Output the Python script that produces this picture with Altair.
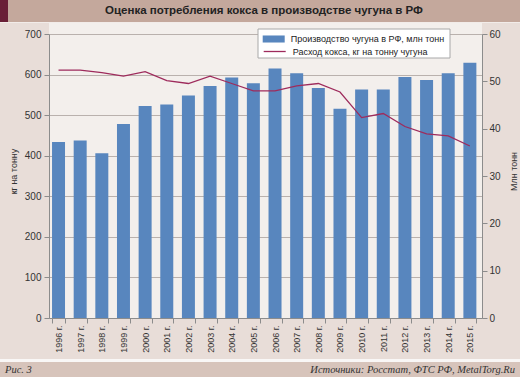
import altair as alt
import pandas as pd

years = ["1996 г.", "1997 г.", "1998 г.", "1999 г.", "2000 г.", "2001 г.", "2002 г.",
         "2003 г.", "2004 г.", "2005 г.", "2006 г.", "2007 г.", "2008 г.", "2009 г.",
         "2010 г.", "2011 г.", "2012 г.", "2013 г.", "2014 г.", "2015 г."]
pig_iron = [37.2, 37.5, 34.8, 41.0, 44.8, 45.1, 47.0, 49.0, 50.8, 49.6,
            52.7, 51.7, 48.6, 44.2, 48.3, 48.3, 50.9, 50.3, 51.7, 53.9]
coke_rate = [611, 611, 605, 596, 607, 585, 578, 596, 578, 560,
             560, 572, 578, 557, 494, 504, 472, 454, 449, 424]
left_ticks = [0, 100, 200, 300, 400, 500, 600, 700]
right_ticks = [0, 10, 20, 30, 40, 50, 60]

bar_name = "Производство чугуна в РФ, млн тонн"
line_name = "Расход кокса, кг на тонну чугуна"
title_text = "Оценка потребления кокса в производстве чугуна в РФ"
fig_text = "Рис. 3"
source_text = "Источники: Росстат, ФТС РФ, MetalTorg.Ru"

df = pd.DataFrame({"year": years, "pig": pig_iron, "coke": coke_rate,
                   "s1": bar_name, "s2": line_name})
one = pd.DataFrame({"a": [0]})

W, H = 433, 284
FONT = "Liberation Sans"
LABEL_COL = "#333333"
AXIS_COL = "#8c8c8c"

x_enc = alt.X("year:N", sort=years,
              scale=alt.Scale(paddingInner=0.4, paddingOuter=0.2, align=0.35),
              axis=alt.Axis(title=None, labelAngle=-90, tickBand="extent",
                            labelFont=FONT, labelFontSize=9, labelColor=LABEL_COL,
                            labelPadding=2, tickSize=5, tickColor=AXIS_COL,
                            domainColor=AXIS_COL, grid=False))


def rect(x, x2, y, y2, fill, **kw):
    return alt.Chart(one).mark_rect(fill=fill, **kw).encode(
        x=alt.value(x), x2=alt.value(x2), y=alt.value(y), y2=alt.value(y2))


title_band = rect(-49, 471, -34, -12, "#c4a89c")
stripe = rect(-49, -41, -34, -12, "#6a1f37")
thin_line = rect(-49, 471, -12, -11, "#f2ece9")
top_strip = rect(0, W, -11, 0, "#f3efec")
white_line = rect(-49, 471, 325, 328, "#f9f7f6")
bottom_band = rect(-49, 471, 328, 343, "#d7c4bb")
legend_box = rect(209, 401, -5, 24, "#ffffff", stroke="#a8a8a8", strokeWidth=1)

bars = alt.Chart(df).mark_bar().encode(
    x=x_enc,
    y=alt.Y("pig:Q", scale=alt.Scale(domain=[0, 60], nice=False),
            axis=alt.Axis(orient="right", values=right_ticks, grid=False,
                          title="Млн тонн", titleAngle=-90, titleX=31, titleY=137,
                          titleAlign="center", titleBaseline="middle",
                          titleFont=FONT, titleFontSize=9, titleFontWeight="normal",
                          titleColor=LABEL_COL,
                          labelFont=FONT, labelFontSize=10, labelColor=LABEL_COL,
                          labelPadding=2, tickSize=5, tickColor=AXIS_COL,
                          domainColor=AXIS_COL)),
    color=alt.Color("s1:N", scale=alt.Scale(domain=[bar_name], range=["#5886be"]),
                    legend=alt.Legend(orient="none", legendX=213.7, legendY=-6,
                                      title=None, symbolType="M-1,-0.32H1V0.32H-1Z",
                                      symbolSize=484, symbolStrokeWidth=0,
                                      labelFont=FONT, labelFontSize=9,
                                      labelColor="#222222", labelOffset=6, padding=0)),
)

line = alt.Chart(df).mark_line(strokeWidth=1.3).encode(
    x=x_enc,
    y=alt.Y("coke:Q", scale=alt.Scale(domain=[0, 700], nice=False),
            axis=alt.Axis(orient="left", values=left_ticks, grid=True,
                          gridColor="#b9b1ad", gridWidth=1,
                          title="кг на тонну", titleAngle=-90, titleX=-36, titleY=137,
                          titleAlign="center", titleBaseline="middle",
                          titleFont=FONT, titleFontSize=9, titleFontWeight="normal",
                          titleColor=LABEL_COL,
                          labelFont=FONT, labelFontSize=10, labelColor=LABEL_COL,
                          labelPadding=3, tickSize=5, tickColor=AXIS_COL,
                          domainColor=AXIS_COL)),
    stroke=alt.Stroke("s2:N", scale=alt.Scale(domain=[line_name], range=["#9e2b5c"]),
                      legend=alt.Legend(orient="none", legendX=213.7, legendY=5.5,
                                        title=None, symbolType="stroke",
                                        symbolSize=484, symbolStrokeWidth=1.3,
                                        labelFont=FONT, labelFontSize=9,
                                        labelColor="#222222", labelOffset=6, padding=0)),
)

title_mark = alt.Chart(one).mark_text(font=FONT, fontSize=11.5, fontWeight="bold",
                                      color="#222222", align="center",
                                      baseline="middle").encode(
    x=alt.value(215), y=alt.value(-23), text=alt.value(title_text))
fig_mark = alt.Chart(one).mark_text(font="Liberation Serif", fontSize=10.5,
                                    fontStyle="italic", color="#333333", align="left",
                                    baseline="middle").encode(
    x=alt.value(-44), y=alt.value(336), text=alt.value(fig_text))
src_mark = alt.Chart(one).mark_text(font="Liberation Serif", fontSize=10.5,
                                    fontStyle="italic", color="#333333", align="right",
                                    baseline="middle").encode(
    x=alt.value(466), y=alt.value(336), text=alt.value(source_text))

chart = alt.layer(
    title_band, stripe, thin_line, top_strip, white_line, bottom_band,
    bars, line, legend_box, title_mark, fig_mark, src_mark
).resolve_scale(
    y="independent", color="independent", stroke="independent"
).properties(
    width=W, height=H,
    padding={"left": 49, "top": 34, "right": 38, "bottom": 59},
    autosize=alt.AutoSizeParams(type="none"),
    background="#e8ddd8",
).configure_view(fill="#f3efec", stroke=None)

chart.save("out.html", embed_options={"renderer": "svg", "actions": False})
